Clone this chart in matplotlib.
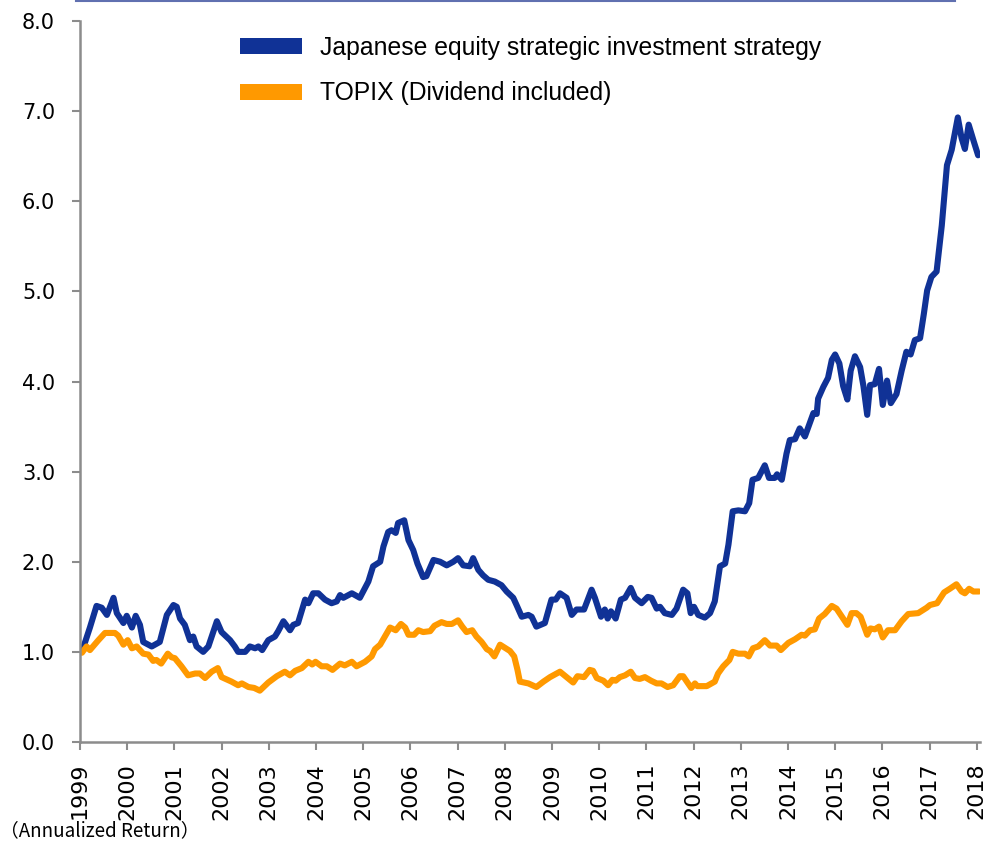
import numpy as np
import matplotlib
matplotlib.use('Agg')
import matplotlib.pyplot as plt
from matplotlib.patches import Patch
from matplotlib.lines import Line2D

# Japanese equity strategic investment strategy (decimal year / index)
strat_t = [1999.04, 1999.21, 1999.35, 1999.46, 1999.57, 1999.71, 1999.78, 1999.92, 1999.99, 2000.10,
           2000.18, 2000.27, 2000.34, 2000.52, 2000.69, 2000.84, 2000.98, 2001.05, 2001.12, 2001.22,
           2001.33, 2001.40, 2001.47, 2001.61, 2001.72, 2001.90, 2002.00, 2002.14, 2002.18, 2002.28,
           2002.35, 2002.50, 2002.60, 2002.71, 2002.78, 2002.86, 2002.99, 2003.13, 2003.20, 2003.31,
           2003.45, 2003.52, 2003.62, 2003.77, 2003.84, 2003.94, 2004.05, 2004.19, 2004.33, 2004.44,
           2004.51, 2004.58, 2004.76, 2004.93, 2005.11, 2005.21, 2005.36, 2005.43, 2005.53, 2005.60,
           2005.69, 2005.74, 2005.87, 2005.96, 2006.06, 2006.15, 2006.27, 2006.34, 2006.49, 2006.63,
           2006.77, 2006.91, 2007.01, 2007.12, 2007.26, 2007.33, 2007.44, 2007.54, 2007.65, 2007.79,
           2007.93, 2008.04, 2008.18, 2008.25, 2008.36, 2008.50, 2008.57, 2008.67, 2008.85, 2008.99,
           2009.08, 2009.17, 2009.31, 2009.42, 2009.52, 2009.68, 2009.84, 2009.91, 2010.04, 2010.12,
           2010.18, 2010.25, 2010.35, 2010.46, 2010.55, 2010.67, 2010.76, 2010.90, 2011.03, 2011.11,
           2011.22, 2011.29, 2011.39, 2011.54, 2011.64, 2011.78, 2011.87, 2011.94, 2012.01, 2012.10,
           2012.24, 2012.35, 2012.45, 2012.56, 2012.67, 2012.74, 2012.83, 2012.95, 2013.09, 2013.18,
           2013.25, 2013.37, 2013.51, 2013.60, 2013.72, 2013.77, 2013.87, 2013.97, 2014.04, 2014.15,
           2014.25, 2014.36, 2014.47, 2014.54, 2014.61, 2014.64, 2014.75, 2014.85, 2014.93, 2015.00,
           2015.09, 2015.17, 2015.26, 2015.33, 2015.42, 2015.53, 2015.60, 2015.68, 2015.74, 2015.84,
           2015.93, 2016.01, 2016.10, 2016.18, 2016.30, 2016.41, 2016.51, 2016.60, 2016.69, 2016.80,
           2016.88, 2016.95, 2017.04, 2017.15, 2017.26, 2017.37, 2017.47, 2017.60, 2017.68, 2017.75,
           2017.83, 2017.94, 2018.03]
strat_v = [1.00, 1.27, 1.51, 1.49, 1.41, 1.60, 1.43, 1.32, 1.40, 1.27,
           1.40, 1.30, 1.11, 1.06, 1.11, 1.41, 1.52, 1.50, 1.37, 1.30,
           1.13, 1.17, 1.06, 1.00, 1.06, 1.34, 1.22, 1.15, 1.13, 1.06,
           1.00, 1.00, 1.06, 1.04, 1.06, 1.02, 1.13, 1.17, 1.23, 1.34,
           1.24, 1.30, 1.32, 1.58, 1.54, 1.65, 1.65, 1.58, 1.54, 1.56,
           1.63, 1.60, 1.65, 1.60, 1.78, 1.95, 2.00, 2.17, 2.33, 2.35,
           2.32, 2.43, 2.46, 2.24, 2.13, 1.98, 1.83, 1.84, 2.02, 2.00,
           1.96, 2.00, 2.04, 1.96, 1.95, 2.04, 1.91, 1.85, 1.80, 1.78,
           1.74, 1.67, 1.60, 1.52, 1.39, 1.41, 1.39, 1.28, 1.32, 1.58,
           1.58, 1.65, 1.60, 1.41, 1.47, 1.47, 1.69, 1.60, 1.39, 1.47,
           1.37, 1.45, 1.37, 1.58, 1.60, 1.71, 1.60, 1.54, 1.61, 1.60,
           1.48, 1.50, 1.43, 1.41, 1.48, 1.69, 1.65, 1.43, 1.50, 1.41,
           1.38, 1.43, 1.56, 1.95, 1.98, 2.19, 2.56, 2.57, 2.56, 2.65,
           2.91, 2.93, 3.07, 2.93, 2.93, 2.97, 2.91, 3.20, 3.35, 3.36,
           3.48, 3.39, 3.55, 3.65, 3.64, 3.81, 3.94, 4.04, 4.24, 4.30,
           4.20, 3.95, 3.80, 4.12, 4.28, 4.16, 3.95, 3.63, 3.96, 3.97,
           4.14, 3.74, 4.01, 3.76, 3.86, 4.12, 4.33, 4.30, 4.46, 4.48,
           4.75, 5.01, 5.16, 5.22, 5.73, 6.40, 6.57, 6.93, 6.70, 6.58,
           6.85, 6.66, 6.51]

# TOPIX (Dividend included)
topix_t = [1999.04, 1999.14, 1999.21, 1999.39, 1999.53, 1999.74, 1999.81, 1999.92, 2000.01, 2000.10,
           2000.20, 2000.34, 2000.45, 2000.55, 2000.62, 2000.72, 2000.86, 2000.94, 2001.01, 2001.15,
           2001.29, 2001.44, 2001.54, 2001.65, 2001.79, 2001.92, 2002.00, 2002.21, 2002.35, 2002.43,
           2002.57, 2002.69, 2002.81, 2002.99, 2003.17, 2003.34, 2003.45, 2003.56, 2003.70, 2003.84,
           2003.92, 2003.99, 2004.12, 2004.23, 2004.35, 2004.51, 2004.61, 2004.76, 2004.86, 2005.04,
           2005.18, 2005.25, 2005.36, 2005.46, 2005.57, 2005.69, 2005.80, 2005.89, 2005.96, 2006.08,
           2006.17, 2006.27, 2006.42, 2006.51, 2006.66, 2006.77, 2006.88, 2007.01, 2007.10, 2007.19,
           2007.31, 2007.40, 2007.51, 2007.62, 2007.69, 2007.78, 2007.90, 2007.99, 2008.11, 2008.20,
           2008.27, 2008.32, 2008.50, 2008.67, 2008.82, 2008.96, 2009.17, 2009.31, 2009.45, 2009.54,
           2009.68, 2009.80, 2009.87, 2009.95, 2010.09, 2010.19, 2010.28, 2010.35, 2010.44, 2010.55,
           2010.67, 2010.76, 2010.86, 2010.97, 2011.10, 2011.22, 2011.32, 2011.45, 2011.57, 2011.71,
           2011.78, 2011.95, 2012.03, 2012.08, 2012.28, 2012.45, 2012.52, 2012.63, 2012.76, 2012.83,
           2012.95, 2013.09, 2013.17, 2013.26, 2013.37, 2013.51, 2013.62, 2013.76, 2013.85, 2014.01,
           2014.15, 2014.29, 2014.36, 2014.47, 2014.57, 2014.66, 2014.78, 2014.93, 2015.03, 2015.17,
           2015.26, 2015.35, 2015.45, 2015.54, 2015.68, 2015.75, 2015.84, 2015.93, 2016.01, 2016.12,
           2016.27, 2016.41, 2016.55, 2016.76, 2016.94, 2017.01, 2017.16, 2017.31, 2017.43, 2017.57,
           2017.68, 2017.75, 2017.84, 2017.93, 2018.05]
topix_v = [0.99, 1.06, 1.02, 1.13, 1.21, 1.21, 1.18, 1.08, 1.13, 1.04,
           1.06, 0.98, 0.97, 0.90, 0.91, 0.87, 0.98, 0.94, 0.93, 0.84,
           0.74, 0.76, 0.76, 0.71, 0.78, 0.82, 0.72, 0.67, 0.63, 0.65,
           0.61, 0.60, 0.57, 0.66, 0.73, 0.78, 0.74, 0.79, 0.82, 0.89,
           0.86, 0.89, 0.84, 0.84, 0.80, 0.87, 0.85, 0.89, 0.84, 0.89,
           0.95, 1.03, 1.08, 1.17, 1.27, 1.24, 1.31, 1.27, 1.19, 1.19,
           1.24, 1.22, 1.23, 1.29, 1.33, 1.31, 1.31, 1.35, 1.28, 1.22,
           1.24, 1.17, 1.11, 1.03, 1.01, 0.95, 1.08, 1.05, 1.01, 0.95,
           0.80, 0.67, 0.65, 0.61, 0.67, 0.72, 0.78, 0.72, 0.66, 0.73,
           0.72, 0.80, 0.79, 0.71, 0.68, 0.63, 0.69, 0.68, 0.72, 0.74,
           0.78, 0.71, 0.70, 0.72, 0.68, 0.65, 0.65, 0.61, 0.63, 0.73,
           0.73, 0.60, 0.65, 0.62, 0.62, 0.67, 0.76, 0.84, 0.91, 1.00,
           0.98, 0.98, 0.95, 1.04, 1.06, 1.13, 1.07, 1.07, 1.02, 1.10,
           1.14, 1.19, 1.18, 1.24, 1.25, 1.37, 1.42, 1.51, 1.48, 1.37,
           1.30, 1.43, 1.43, 1.39, 1.19, 1.26, 1.25, 1.28, 1.16, 1.24,
           1.24, 1.34, 1.42, 1.43, 1.49, 1.52, 1.54, 1.66, 1.70, 1.75,
           1.67, 1.65, 1.70, 1.67, 1.67]

years = list(range(1999, 2019))
yticks = [0, 1, 2, 3, 4, 5, 6, 7, 8]
labels = ['Japanese equity strategic investment strategy', 'TOPIX (Dividend included)']
note = '（Annualized Return）'

blue = '#103296'
orange = '#ff9900'
axcol = '#8c8c8c'

fig = plt.figure(figsize=(9.89, 8.41), dpi=100)
ax = fig.add_axes([80/989., 1-742/841., 900/989., 721/841.])

ax.plot(strat_t, strat_v, color=blue, lw=4.4, solid_joinstyle='round', solid_capstyle='round')
ax.plot(topix_t, topix_v, color=orange, lw=4.4, solid_joinstyle='round', solid_capstyle='round')

ax.set_xlim(1999, 2018.07)
ax.set_ylim(0, 8)
ax.set_xticks(years)
ax.set_xticklabels([str(y) for y in years], rotation=90, fontsize=16, va='top', ha='center')
ax.set_yticks(yticks)
ax.set_yticklabels(['%.1f' % v for v in yticks], fontsize=15)

for s in ['top', 'right']:
    ax.spines[s].set_visible(False)
for s in ['left', 'bottom']:
    ax.spines[s].set_color(axcol)
    ax.spines[s].set_linewidth(1.8)
ax.tick_params(axis='y', direction='out', length=6, width=1.5, color=axcol, pad=12)
ax.tick_params(axis='x', direction='out', length=6, width=1.5, color=axcol, pad=9)

handles = [Patch(facecolor=blue, edgecolor='none'), Patch(facecolor=orange, edgecolor='none')]
fig.legend(handles, labels, loc='upper left', bbox_to_anchor=(240/989., 1-36/841.),
           frameon=False, borderpad=0, borderaxespad=0, handlelength=2.5, handleheight=0.62,
           handletextpad=0.75, labelspacing=0.86,
           prop={'family': 'Liberation Sans', 'size': 17.8})

# thin rule along the top edge
fig.add_artist(Line2D([76/989., 955/989.], [0.9988, 0.9988], color='#6070b0', lw=1.5,
                      transform=fig.transFigure))

fig.text(0.0, 1-831/841., note, fontsize=13.5, va='center', ha='left',
         family=['Noto Sans CJK JP', 'DejaVu Sans'])

plt.savefig('out.png', dpi=100)
plt.close()
